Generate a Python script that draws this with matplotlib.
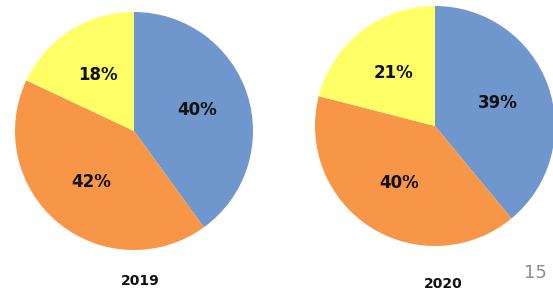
import matplotlib
matplotlib.use('Agg')
from matplotlib import pyplot as plt

# shares per year, clockwise from 12 o'clock
years = ['2019', '2020']
shares_2019 = [40, 42, 18]
shares_2020 = [39, 40, 21]
colors = ['#7096CE', '#F79646', '#FFFF66']

fig = plt.figure(figsize=(5.53, 2.93), dpi=100)

# pie axes positions in figure fraction
boxes = [[15/553, 43/293, 238/553, 238/293],
         [315/553, 47/293, 240/553, 240/293]]

for box, shares in zip(boxes, [shares_2019, shares_2020]):
    ax = fig.add_axes(box)
    ax.pie(shares, colors=colors, startangle=90, counterclock=False,
           autopct='%d%%', pctdistance=0.56,
           textprops={'fontsize': 12, 'fontweight': 'bold', 'color': '#111111'})
    ax.set_xlim(-1, 1)
    ax.set_ylim(-1, 1)
    ax.set_aspect('equal')
    ax.axis('off')

# year captions and page number
fig.text(140/553, 1 - 281/293, years[0], ha='center', va='center',
         fontsize=10, fontweight='bold', color='#111111')
fig.text(443/553, 1 - 284/293, years[1], ha='center', va='center',
         fontsize=10, fontweight='bold', color='#111111')
fig.text(535/553, 1 - 273/293, '15', ha='center', va='center',
         fontsize=13, color='#8c8c8c')

plt.savefig('out.png', dpi=100)
